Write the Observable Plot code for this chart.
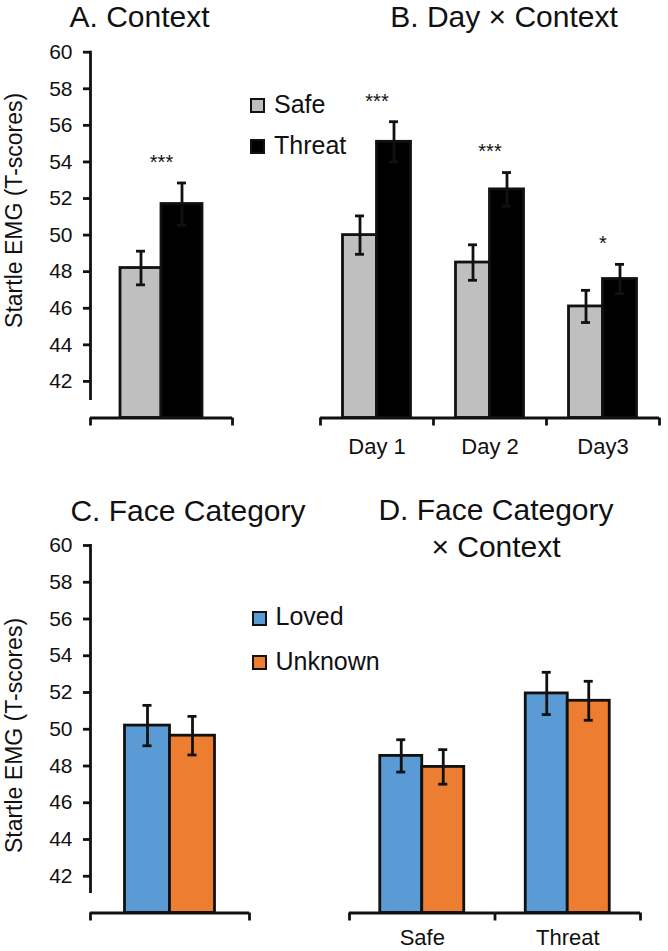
<!DOCTYPE html>
<html>
<head>
<meta charset="utf-8">
<script src="https://cdn.jsdelivr.net/npm/d3@7"></script>
<script src="https://cdn.jsdelivr.net/npm/@observablehq/plot@0.6"></script>
<style>
  body { margin: 0; background: #fff; }
  #chart { position: relative; width: 668px; height: 951px; overflow: hidden;
           font-family: "Liberation Sans", Arial, Helvetica, sans-serif; color: #111; background: #fff; }
  .abs { position: absolute; white-space: nowrap; }
  .title { font-size: 30px; line-height: 30px; transform: translateX(-50%); text-align: center; }
  .sw { position: absolute; box-sizing: border-box; width: 15px; height: 15px; border: 2.5px solid #111; }
  .lt { position: absolute; font-size: 25px; line-height: 25px; white-space: nowrap; }
</style>
</head>
<body>
<div id="chart"></div>
<script>
// ---------- data ----------
const yDomain = [40, 60];
const yTicks = [42, 44, 46, 48, 50, 52, 54, 56, 58, 60];
const yLabel = "Startle EMG (T-scores)";

// A. Context
const contexts = ["Safe", "Threat"];
const contextColors = ["#BFBFBF", "#000000"];
const ctxMean = [48.2, 51.7];
const ctxSE = [0.92, 1.15];
const ctxSig = ["***"];

// B. Day × Context
const days = ["Day 1", "Day 2", "Day3"];
const daySafe = [50.0, 48.5, 46.1];
const daySafeSE = [1.05, 0.97, 0.88];
const dayThreat = [55.1, 52.5, 47.6];
const dayThreatSE = [1.1, 0.92, 0.8];
const daySig = ["***", "***", "*"];

// C. Face Category
const faces = ["Loved", "Unknown"];
const faceColors = ["#5B9BD5", "#ED7D31"];
const faceMean = [50.2, 49.65];
const faceSE = [1.1, 1.05];

// D. Face Category × Context  (order: Safe, Threat)
const dContexts = ["Safe", "Threat"];
const lovedByCtx = [48.55, 51.95];
const lovedByCtxSE = [0.88, 1.15];
const unknownByCtx = [47.95, 51.55];
const unknownByCtxSE = [0.94, 1.06];

// ---------- rows ----------
const rowsA = contexts.map((c, i) => ({group: "Context", sub: c, value: ctxMean[i], se: ctxSE[i]}));
const sigA = [{group: "Context", top: d3.max(rowsA, d => d.value + d.se), sig: ctxSig[0]}];

const rowsB = days.flatMap((d, i) => [
  {group: d, sub: "Safe", value: daySafe[i], se: daySafeSE[i]},
  {group: d, sub: "Threat", value: dayThreat[i], se: dayThreatSE[i]}
]);
const sigB = days.map((d, i) => ({group: d, top: dayThreat[i] + dayThreatSE[i], sig: daySig[i]}));

const rowsC = faces.map((f, i) => ({group: "Face", sub: f, value: faceMean[i], se: faceSE[i]}));

const rowsD = dContexts.flatMap((c, i) => [
  {group: c, sub: "Loved", value: lovedByCtx[i], se: lovedByCtxSE[i]},
  {group: c, sub: "Unknown", value: unknownByCtx[i], se: unknownByCtxSE[i]}
]);

// ---------- panel builder ----------
const ink = "#111";
const sw = 2.8;
const Y0 = yDomain[0];

function panel(cfg) {
  const {rows, groups, subs, colors, width, height, ml, mr, mt, mb, yRange, barW,
         yAxis = false, labels = false, labelDy = 20, sig = [], yLabelDy = 0} = cfg;
  const facetW = (width - ml - mr) / groups.length;
  const pad = (facetW / barW - subs.length) / 2;
  const edge = barW / 2 + pad * barW;
  const pxPerUnit = (yRange[0] - yRange[1]) / (yDomain[1] - yDomain[0]);
  const tickLen = 8 / pxPerUnit;
  const capInset = (barW - 9) / 2;
  const line = {stroke: ink, strokeWidth: sw};
  const marks = [
    Plot.barY(rows, {fx: "group", x: "sub", y1: () => Y0, y2: "value", fill: "sub", ...line}),
    Plot.ruleX(rows, {fx: "group", x: "sub", y1: d => d.value - d.se, y2: d => d.value + d.se, ...line}),
    Plot.tickY(rows, {fx: "group", x: "sub", y: d => d.value + d.se, insetLeft: capInset, insetRight: capInset, ...line}),
    Plot.tickY(rows, {fx: "group", x: "sub", y: d => d.value - d.se, insetLeft: capInset, insetRight: capInset, ...line}),
    Plot.ruleY([Y0], line),
    Plot.ruleX(groups, {fx: d => d, x: () => subs[0], dx: -edge, y1: () => Y0, y2: () => Y0 - tickLen, ...line}),
    Plot.ruleX(groups.slice(-1), {fx: d => d, x: () => subs[subs.length - 1], dx: edge, y1: () => Y0, y2: () => Y0 - tickLen, ...line}),
    Plot.text(sig, {fx: "group", y: d => d.top + 1.4, text: "sig", fontSize: 20, lineAnchor: "middle", dy: 5})
  ];
  if (labels) {
    marks.push(Plot.text(groups, {fx: d => d, y: () => Y0, text: d => d, lineAnchor: "top", dy: labelDy, fontSize: 22}));
  }
  if (yAxis) {
    marks.push(
      Plot.frame({anchor: "left", ...line}),
      Plot.axisY(yTicks, {tickSize: 7, tickPadding: 11, fontSize: 21, label: null, ...line}),
      Plot.text([yLabel], {text: d => d, frameAnchor: "left", textAnchor: "middle", lineAnchor: "middle",
                           rotate: -90, dx: -76, dy: yLabelDy, fontSize: 23})
    );
  }
  return Plot.plot({
    width, height,
    marginLeft: ml, marginRight: mr, marginTop: mt, marginBottom: mb,
    fx: {domain: groups, padding: 0, axis: null, round: false},
    x: {domain: subs, paddingInner: 0, paddingOuter: pad, axis: null, round: false},
    y: {domain: yDomain, range: yRange, axis: null},
    color: {domain: subs, range: colors},
    style: {fontFamily: '"Liberation Sans", Arial, Helvetica, sans-serif', fontSize: "21px",
            color: ink, background: "transparent", overflow: "visible"},
    marks
  });
}

const chart = document.getElementById("chart");
function place(el, left, top) {
  el.style.position = "absolute";
  el.style.left = left + "px";
  el.style.top = top + "px";
  chart.appendChild(el);
}

// top row
place(panel({rows: rowsA, groups: ["Context"], subs: contexts, colors: contextColors,
  width: 240, height: 460, ml: 90, mr: 8, mt: 51.7, mb: 62, yRange: [417.5, 51.7], barW: 41,
  yAxis: true, sig: sigA, yLabelDy: -15}), 0, 0);
place(panel({rows: rowsB, groups: days, subs: contexts, colors: contextColors,
  width: 368, height: 460, ml: 20, mr: 9, mt: 51.7, mb: 62, yRange: [417.5, 51.7], barW: 34,
  labels: true, labelDy: 20, sig: sigB}), 300, 0);

// bottom row
place(panel({rows: rowsC, groups: ["Face"], subs: faces, colors: faceColors,
  width: 258, height: 481, ml: 90, mr: 9, mt: 75, mb: 60, yRange: [442.5, 75], barW: 45,
  yAxis: true, yLabelDy: 17}), 0, 470);
place(panel({rows: rowsD, groups: dContexts, subs: faces, colors: faceColors,
  width: 318, height: 481, ml: 19, mr: 8, mt: 75, mb: 60, yRange: [442.5, 75], barW: 42,
  labels: true, labelDy: 16}), 330, 470);

// titles
function title(text, cx, top, extra = "") {
  const d = document.createElement("div");
  d.className = "abs title";
  d.innerHTML = text;
  d.style.left = cx + "px";
  d.style.top = top + "px";
  if (extra) d.style.cssText += extra;
  chart.appendChild(d);
}
title("A. Context", 139.5, 1.5);
title("B. Day × Context", 504, 1.5);
title("C. Face Category", 188, 496.3);
title("D. Face Category<br>× Context", 496, 491.1, "line-height:37px;");

// legends
function legend(items, colors, left, top, gap) {
  items.forEach((name, i) => {
    const y = top + i * gap;
    const s = document.createElement("div");
    s.className = "sw";
    s.style.left = left + "px";
    s.style.top = y + "px";
    s.style.background = colors[i];
    chart.appendChild(s);
    const t = document.createElement("div");
    t.className = "lt";
    t.textContent = name;
    t.style.left = (left + 24) + "px";
    t.style.top = (y + 15 - 21.2) + "px";
    chart.appendChild(t);
  });
}
legend(contexts, contextColors, 250, 98, 41);
legend(faces, faceColors, 251.5, 610.5, 44.5);
</script>
</body>
</html>
